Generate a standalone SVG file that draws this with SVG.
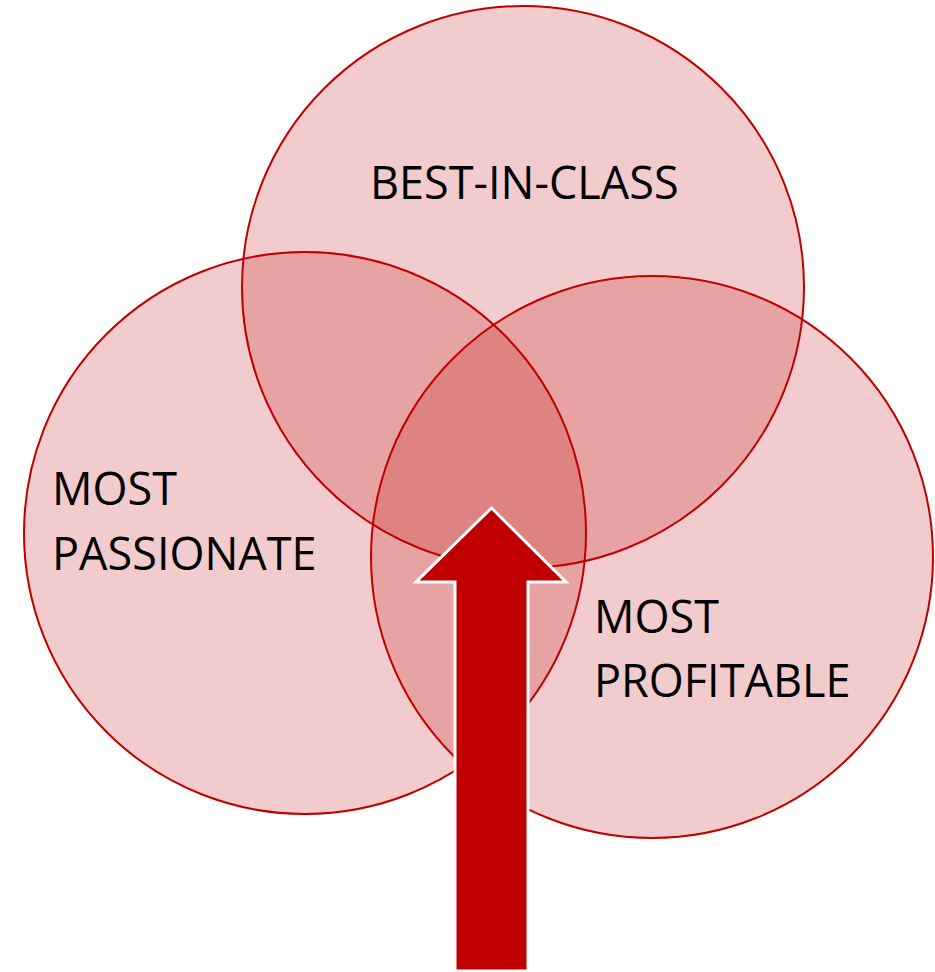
<svg xmlns="http://www.w3.org/2000/svg" width="935" height="972" viewBox="0 0 935 972">
<style>
.c{fill:#C00000;fill-opacity:0.2;stroke:#C00000;stroke-width:2}
.t{font-family:"Open Sans","Liberation Sans",sans-serif;font-size:45px;fill:#000}
</style>
<rect width="935" height="972" fill="#fff"/>
<g id="best-in-class"><circle class="c" cx="523" cy="287" r="281"/><text class="t" x="370" y="199">BEST-IN-CLASS</text></g>
<g id="most-passionate"><circle class="c" cx="305" cy="533" r="281"/><text class="t" x="52" y="505">MOST</text><text class="t" x="52" y="570">PASSIONATE</text></g>
<g id="most-profitable"><circle class="c" cx="652" cy="557" r="281"/><text class="t" x="594" y="633">MOST</text><text class="t" x="594" y="697">PROFITABLE</text></g>
<g id="connectors"><path d="M491.5 508 L566 582 L528 582 L528 971 L455 971 L455 582 L416 582 Z" fill="#C00000" stroke="#fff" stroke-width="3" stroke-linejoin="miter"/></g>
</svg>
